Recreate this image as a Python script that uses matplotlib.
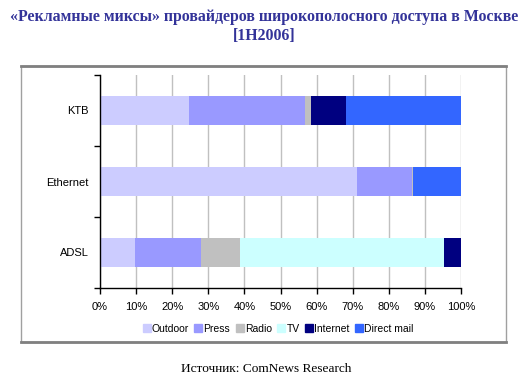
import numpy as np
import matplotlib.pyplot as plt
from matplotlib.patches import Rectangle
from matplotlib.lines import Line2D

# Providers (bottom to top) and media shares, %
providers = ["ADSL", "Ethernet", "KTB"]
media = ["Outdoor", "Press", "Radio", "TV", "Internet", "Direct mail"]
outdoor = [9.7, 71.2, 24.7]
press = [18.3, 15.3, 32.1]
radio = [10.8, 0.3, 1.6]
tv = [56.4, 0.0, 0.0]
internet = [4.8, 0.0, 9.7]
direct_mail = [0.0, 13.2, 31.9]
colors = ["#CCCCFF", "#9999FF", "#C0C0C0", "#CCFFFF", "#000080", "#3366FF"]

series = [outdoor, press, radio, tv, internet, direct_mail]

fig = plt.figure(figsize=(5.28, 3.84), dpi=100)
ax = fig.add_axes([100 / 528, 1 - 288 / 384, 361 / 528, 213 / 384])

y = np.arange(len(providers))
left = np.zeros(len(providers))
for name, vals, c in zip(media, series, colors):
    ax.barh(y, vals, left=left, height=0.4, color=c, label=name, zorder=2)
    left += np.array(vals)

ax.set_xlim(0, 100)
ax.set_ylim(-0.5, 2.5)
ax.set_xticks(np.arange(0, 101, 10))
ax.set_xticklabels([f"{v}%" for v in range(0, 101, 10)],
                   fontsize=8, family="Liberation Sans")
ax.set_yticks(y)
ax.set_yticklabels(providers, fontsize=8, family="Liberation Sans")
ax.set_yticks([-0.5, 0.5, 1.5, 2.5], minor=True)
ax.tick_params(axis="y", which="major", length=0, pad=8)
ax.tick_params(axis="y", which="minor", length=4, width=1, direction="out")
ax.tick_params(axis="x", length=4, width=1, direction="out", pad=6)
ax.grid(axis="x", color="#C0C0C0", linewidth=1, zorder=0)
for s in ["top", "right"]:
    ax.spines[s].set_visible(False)
ax.spines["left"].set_linewidth(1)
ax.spines["bottom"].set_linewidth(1)

handles = [Line2D([], [], marker="s", linestyle="", markersize=6,
                  markerfacecolor=c, markeredgecolor=c) for c in colors]
fig.legend(handles, media, loc="center", bbox_to_anchor=(278 / 528, 1 - 329 / 384),
           ncol=6, frameon=False, handletextpad=0.1, handlelength=0.8,
           columnspacing=0.5, prop={"family": "Liberation Sans", "size": 7.5})

# chart area border
fig.add_artist(Rectangle((21 / 528, 1 - 342 / 384), 485 / 528, 276 / 384,
                         transform=fig.transFigure, fill=False,
                         edgecolor="#A0A0A0", linewidth=1))
fig.add_artist(Line2D([21 / 528, 506 / 528], [1 - 66 / 384] * 2,
                      transform=fig.transFigure, color="#808080", linewidth=2))
fig.add_artist(Line2D([21 / 528, 506 / 528], [1 - 342 / 384] * 2,
                      transform=fig.transFigure, color="#808080", linewidth=2))

fig.text(0.5, 1 - 17 / 384, "«Рекламные миксы» провайдеров широкополосного доступа в Москве",
         ha="center", va="center", fontsize=11.4, fontweight="bold",
         family="Liberation Serif", color="#333399")
fig.text(0.5, 1 - 36 / 384, "[1H2006]", ha="center", va="center", fontsize=11.4,
         fontweight="bold", family="Liberation Serif", color="#333399")
fig.text(266 / 528, 1 - 369 / 384, "Источник: ComNews Research", ha="center",
         va="center", fontsize=9.6, family="Liberation Serif", color="black")

fig.savefig("out.png", dpi=100)
